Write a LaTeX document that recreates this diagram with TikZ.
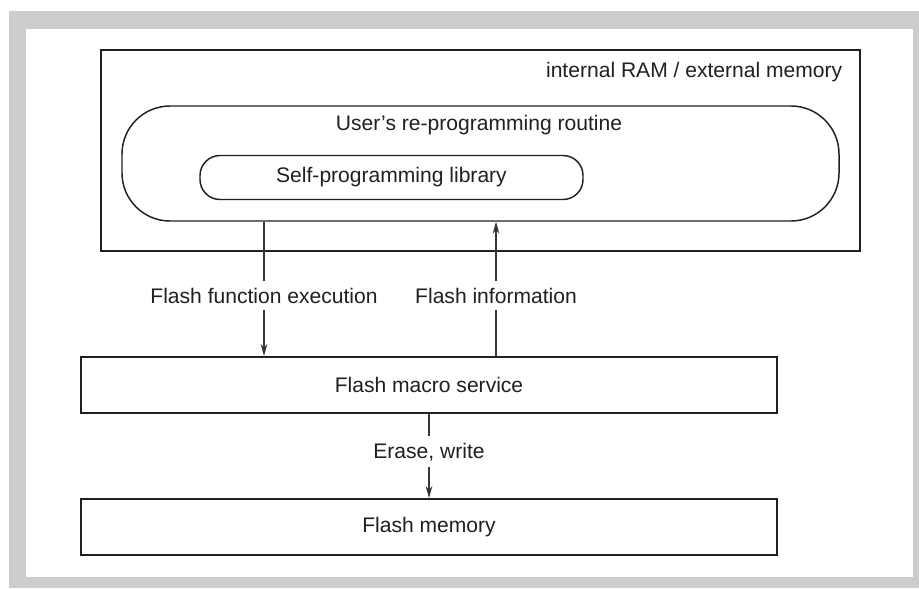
\documentclass[tikz,border=0pt]{standalone}
\usepackage{fontspec}
\setmainfont{Liberation Sans}
\usetikzlibrary{arrows.meta}
\definecolor{framegray}{HTML}{CCCCCC}
\definecolor{ink}{HTML}{231F20}
\begin{document}
\begin{tikzpicture}[x=0.75pt,y=-0.75pt,
  every node/.style={font=\fontsize{15.8}{19}\selectfont, text=ink},
  boxframe/.style={draw=ink, line width=1.5pt, inner sep=0pt},
  roundframe/.style={draw=ink, line width=1.1pt, inner sep=0pt},
  flow/.style={draw=ink!90, line width=0.8pt, -{Stealth[length=9pt,width=5pt]}},
  flowlabel/.style={fill=white, inner xsep=2pt, inner ysep=5pt}]
\useasboundingbox (0,0) rectangle (919,588);
\fill[framegray] (9,11) rectangle (919,588);
\fill[white] (26,29) rectangle (913,577);
% containers
\node[boxframe, minimum width=569.25pt, minimum height=150.75pt] (mem) at (480.5,150.5) {};
\node[roundframe, rounded corners=36pt, minimum width=537.75pt, minimum height=86.25pt] (routine) at (480.5,163.5) {};
\node[roundframe, rounded corners=15pt, minimum width=287.25pt, minimum height=33pt] (lib) at (391.5,177.5) {Self-programming library};
\node[anchor=east] (memlabel) at (847,72) {internal RAM / external memory};
\node (routinelabel) at (479,125) {User’s re-programming routine};
% lower boxes
\node[boxframe, minimum width=522pt, minimum height=42pt] (macro) at (429,385) {Flash macro service};
\node[boxframe, minimum width=522pt, minimum height=42pt] (flash) at (429,527) {Flash memory};
% connectors
\coordinate (xa) at (264,0);
\coordinate (xb) at (496,0);
\draw[flow] (routine.south -| xa) -- node[flowlabel, pos=0.55] {Flash function execution} (macro.north -| xa);
\draw[flow] (macro.north -| xb) -- node[flowlabel, pos=0.45] {Flash information} (routine.south -| xb);
\draw[flow] (macro.south) -- node[flowlabel, pos=0.45] {Erase, write} (flash.north);
\end{tikzpicture}
\end{document}
